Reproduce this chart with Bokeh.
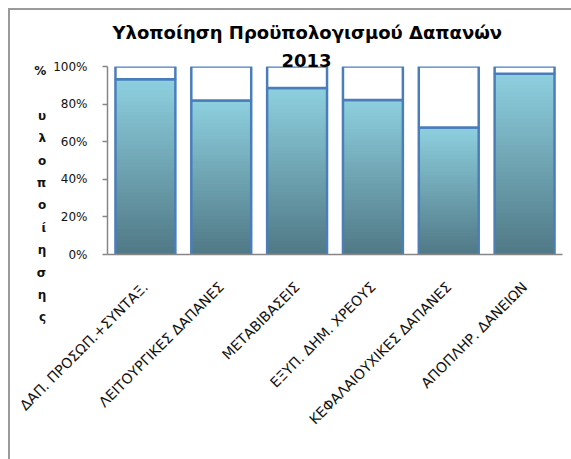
from bokeh.plotting import figure
from bokeh.models import FactorRange, Range1d, FixedTicker, NumeralTickFormatter, Title
from bokeh.embed import file_html
from bokeh.resources import INLINE
import math

# ---- data ----
categories = ["ΔΑΠ. ΠΡΟΣΩΠ.+ΣΥΝΤΑΞ.", "ΛΕΙΤΟΥΡΓΙΚΕΣ ΔΑΠΑΝΕΣ", "ΜΕΤΑΒΙΒΑΣΕΙΣ",
              "ΕΞΥΠ. ΔΗΜ. ΧΡΕΟΥΣ", "ΚΕΦΑΛΑΙΟΥΧΙΚΕΣ ΔΑΠΑΝΕΣ", "ΑΠΟΠΛΗΡ. ΔΑΝΕΙΩΝ"]
realized = [0.932, 0.819, 0.886, 0.822, 0.676, 0.962]
remaining = [0.068, 0.181, 0.114, 0.178, 0.324, 0.038]
y_ticks = [0, 0.2, 0.4, 0.6, 0.8, 1.0]
title_lines = ["Υλοποίηση Προϋπολογισμού Δαπανών", "2013"]
y_title = "% υλοποίησης"

# ---- style ----
OUTLINE = "#4a7ebb"
TOP_RGB = (142, 208, 224)
BOT_RGB = (80, 120, 133)
AXIS = "#868686"
BAR_W = 0.79
N_SLICES = 48

p = figure(width=571, height=459, output_backend="svg", toolbar_location=None,
           x_range=FactorRange(factors=categories, range_padding=0),
           y_range=Range1d(0, 1),
           min_border_left=107, min_border_right=9, min_border_top=66, min_border_bottom=205)
p.styles = {
    "background-color": "#ffffff",
    "background-image": "linear-gradient(#9a9a9a, #9a9a9a), linear-gradient(#9a9a9a, #9a9a9a)",
    "background-size": "2px 100%, 100% 2px",
    "background-position": "8px 8px, 8px 8px",
    "background-repeat": "no-repeat",
}
p.outline_line_color = None
p.grid.visible = False
p.background_fill_color = None
p.border_fill_color = None

# gradient fill of realized part (slices computed from each value)
for k in range(N_SLICES):
    f = (k + 0.5) / N_SLICES
    r = round(BOT_RGB[0] + (TOP_RGB[0] - BOT_RGB[0]) * f)
    g = round(BOT_RGB[1] + (TOP_RGB[1] - BOT_RGB[1]) * f)
    b = round(BOT_RGB[2] + (TOP_RGB[2] - BOT_RGB[2]) * f)
    col = "#%02x%02x%02x" % (r, g, b)
    bottoms = [v * k / N_SLICES for v in realized]
    tops = [v * min(k + 2, N_SLICES) / N_SLICES for v in realized]
    p.vbar(x=categories, bottom=bottoms, top=tops, width=BAR_W,
           fill_color=col, line_color=None)

# outlines of realized part
p.vbar(x=categories, bottom=0, top=realized, width=BAR_W,
       fill_color=None, line_color=OUTLINE, line_width=2.5)
# remaining part (white)
tops_rem = [a + b for a, b in zip(realized, remaining)]
p.vbar(x=categories, bottom=realized, top=tops_rem, width=BAR_W,
       fill_color="white", line_color=OUTLINE, line_width=2.5)

# axes
p.yaxis.ticker = FixedTicker(ticks=y_ticks)
p.yaxis.formatter = NumeralTickFormatter(format="0%")
p.yaxis.axis_line_color = AXIS
p.yaxis.axis_line_width = 1.5
p.yaxis.major_tick_line_color = AXIS
p.yaxis.major_tick_line_width = 1.5
p.yaxis.major_tick_out = 5
p.yaxis.major_tick_in = 0
p.yaxis.minor_tick_line_color = None
p.yaxis.major_label_standoff = 15
p.yaxis.major_label_text_font = "DejaVu Sans"
p.yaxis.major_label_text_font_size = "12px"
p.yaxis.major_label_text_color = "#111111"

# stacked vertical axis title (one character per line)
p.yaxis.axis_label = "\n\n\n" + "\n".join(y_title)
p.yaxis.axis_label_orientation = "horizontal"
p.yaxis.axis_label_text_font = "DejaVu Sans"
p.yaxis.axis_label_text_font_style = "bold"
p.yaxis.axis_label_text_font_size = "12px"
p.yaxis.axis_label_text_line_height = 1.6
p.yaxis.axis_label_text_color = "#111111"
p.yaxis.axis_label_standoff = 4
p.yaxis.axis_label_text_align = "center"

p.xaxis.axis_line_color = AXIS
p.xaxis.axis_line_width = 1.5
p.xaxis.major_tick_line_color = None
p.xaxis.minor_tick_line_color = None
p.xaxis.major_label_orientation = math.pi / 4
p.xaxis.major_label_standoff = 24
p.xaxis.major_label_text_font = "DejaVu Sans"
p.xaxis.major_label_text_font_size = "14px"
p.xaxis.major_label_text_color = "#111111"

# title (two lines, added nearest-first)
p.add_layout(Title(text=title_lines[1], align="left", offset=174, standoff=-1,
                   text_font="DejaVu Sans", text_font_style="bold",
                   text_font_size="18px", text_color="#000000"), "above")
p.add_layout(Title(text=title_lines[0], align="left", offset=5, standoff=20,
                   text_font="DejaVu Sans", text_font_style="bold",
                   text_font_size="18px", text_color="#000000"), "above")

open("out.html", "w").write(file_html(p, INLINE))
